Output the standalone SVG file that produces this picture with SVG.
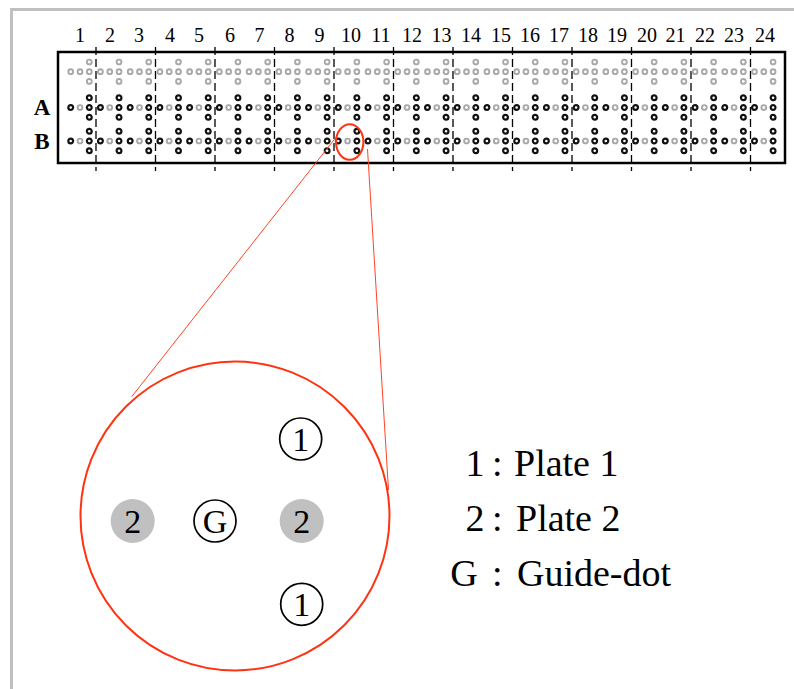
<svg xmlns="http://www.w3.org/2000/svg" xmlns:xlink="http://www.w3.org/1999/xlink" width="794" height="689" viewBox="0 0 794 689">
  <style>
    .frame { fill: none; stroke: #c0c0c0; stroke-width: 3; }
    .plate { fill: #ffffff; stroke: #000000; stroke-width: 2.5; }
    .sep { stroke: #000000; stroke-width: 1.3; stroke-dasharray: 8 4; }
    .dk { fill: #ffffff; stroke: #111111; stroke-width: 2.2; }
    .lt { fill: #ffffff; stroke: #a8a8a8; stroke-width: 1.9; }
    .num { font-family: "Liberation Serif", "Times New Roman", serif; font-size: 20px; text-anchor: middle; fill: #000; }
    .row { font-family: "Liberation Serif", "Times New Roman", serif; font-size: 23px; font-weight: bold; text-anchor: middle; fill: #000; }
    .red { fill: none; stroke: #ff3311; stroke-width: 2; }
    .link { fill: none; stroke: #ff4422; stroke-width: 1; }
    .ring { fill: #ffffff; stroke: #000000; stroke-width: 1.7; }
    .fillg { fill: #c0c0c0; }
    .big { font-family: "Liberation Serif", "Times New Roman", serif; font-size: 34px; text-anchor: middle; fill: #000; }
    .leg { font-family: "Liberation Serif", "Times New Roman", serif; font-size: 38px; fill: #000; }
  </style>
  <defs>
    <!-- one dot cross: vertical triple on the centre, two dots to its left -->
    <g id="crossLight">
      <circle class="lt" cx="0" cy="-9.7" r="2.4"/>
      <circle class="lt" cx="0" cy="0" r="2.4"/>
      <circle class="lt" cx="0" cy="9.7" r="2.4"/>
      <circle class="lt" cx="-9.3" cy="0" r="2.4"/>
      <circle class="lt" cx="-18.6" cy="0" r="2.4"/>
    </g>
    <g id="crossDark">
      <circle class="dk" cx="0" cy="-9.7" r="2.4"/>
      <circle class="dk" cx="0" cy="0" r="2.4"/>
      <circle class="dk" cx="0" cy="9.7" r="2.4"/>
      <circle class="lt" cx="-9.3" cy="0" r="2.4"/>
      <circle class="dk" cx="-18.6" cy="0" r="2.4"/>
    </g>
    <!-- one plate column: guide row plus rows A and B -->
    <g id="column">
      <use xlink:href="#crossLight" y="71.7"/>
      <use xlink:href="#crossDark" y="107.5"/>
      <use xlink:href="#crossDark" y="141"/>
    </g>
  </defs>

  <rect width="794" height="689" fill="#ffffff"/>
  <path class="frame" d="M11.5 689 V9.5 H794"/>

  <!-- plate strip -->
  <g id="plate">
    <rect class="plate" x="58" y="52" width="727" height="111"/>
    <g id="separators">
      <line class="sep" x1="96" y1="47" x2="96" y2="171"/>
      <line class="sep" x1="155.5" y1="47" x2="155.5" y2="171"/>
      <line class="sep" x1="215" y1="47" x2="215" y2="171"/>
      <line class="sep" x1="274.5" y1="47" x2="274.5" y2="171"/>
      <line class="sep" x1="334" y1="47" x2="334" y2="171"/>
      <line class="sep" x1="393.5" y1="47" x2="393.5" y2="171"/>
      <line class="sep" x1="453" y1="47" x2="453" y2="171"/>
      <line class="sep" x1="512.5" y1="47" x2="512.5" y2="171"/>
      <line class="sep" x1="572" y1="47" x2="572" y2="171"/>
      <line class="sep" x1="631.5" y1="47" x2="631.5" y2="171"/>
      <line class="sep" x1="691" y1="47" x2="691" y2="171"/>
      <line class="sep" x1="750.5" y1="47" x2="750.5" y2="171"/>
    </g>
    <g id="dots">
      <use xlink:href="#column" x="89.3"/>
      <use xlink:href="#column" x="119.03"/>
      <use xlink:href="#column" x="148.76"/>
      <use xlink:href="#column" x="178.49"/>
      <use xlink:href="#column" x="208.22"/>
      <use xlink:href="#column" x="237.95"/>
      <use xlink:href="#column" x="267.68"/>
      <use xlink:href="#column" x="297.41"/>
      <use xlink:href="#column" x="327.14"/>
      <use xlink:href="#column" x="356.87"/>
      <use xlink:href="#column" x="386.6"/>
      <use xlink:href="#column" x="416.33"/>
      <use xlink:href="#column" x="446.06"/>
      <use xlink:href="#column" x="475.79"/>
      <use xlink:href="#column" x="505.52"/>
      <use xlink:href="#column" x="535.25"/>
      <use xlink:href="#column" x="564.98"/>
      <use xlink:href="#column" x="594.71"/>
      <use xlink:href="#column" x="624.44"/>
      <use xlink:href="#column" x="654.17"/>
      <use xlink:href="#column" x="683.9"/>
      <use xlink:href="#column" x="713.63"/>
      <use xlink:href="#column" x="743.36"/>
      <use xlink:href="#column" x="773.09"/>
    </g>
    <g id="column-numbers">
      <text class="num" x="80" y="42">1</text>
      <text class="num" x="110" y="42">2</text>
      <text class="num" x="139" y="42">3</text>
      <text class="num" x="170" y="42">4</text>
      <text class="num" x="199" y="42">5</text>
      <text class="num" x="230" y="42">6</text>
      <text class="num" x="259.5" y="42">7</text>
      <text class="num" x="289.5" y="42">8</text>
      <text class="num" x="319.5" y="42">9</text>
      <text class="num" x="351" y="42">10</text>
      <text class="num" x="381" y="42">11</text>
      <text class="num" x="412" y="42">12</text>
      <text class="num" x="441.5" y="42">13</text>
      <text class="num" x="471" y="42">14</text>
      <text class="num" x="501" y="42">15</text>
      <text class="num" x="530" y="42">16</text>
      <text class="num" x="559" y="42">17</text>
      <text class="num" x="588" y="42">18</text>
      <text class="num" x="617" y="42">19</text>
      <text class="num" x="647" y="42">20</text>
      <text class="num" x="675.5" y="42">21</text>
      <text class="num" x="705" y="42">22</text>
      <text class="num" x="734" y="42">23</text>
      <text class="num" x="765" y="42">24</text>
    </g>
    <g id="row-labels">
      <text class="row" x="42" y="115">A</text>
      <text class="row" x="42" y="149">B</text>
    </g>
  </g>

  <!-- highlighted site: column 10, row B -->
  <g id="site">
    <ellipse class="red" cx="349.7" cy="142" rx="13.7" ry="17.8"/>
  </g>

  <g id="connectors">
    <line class="link" x1="337" y1="136" x2="131.7" y2="396.7"/>
    <line class="link" x1="367.5" y1="149" x2="388.5" y2="490"/>
  </g>

  <!-- magnified site -->
  <g id="magnifier">
    <circle class="red" cx="235" cy="516" r="154.5"/>
  </g>
  <g id="dot-1-top">
    <circle class="ring" cx="300.7" cy="439" r="21"/>
    <text class="big" x="300.7" y="450.5">1</text>
  </g>
  <g id="dot-2-left">
    <circle class="fillg" cx="132.7" cy="521" r="22"/>
    <text class="big" x="132.7" y="532.5">2</text>
  </g>
  <g id="dot-g">
    <circle class="ring" cx="215" cy="521" r="21"/>
    <text class="big" x="215" y="532.5">G</text>
  </g>
  <g id="dot-2-right">
    <circle class="fillg" cx="301.7" cy="521" r="22"/>
    <text class="big" x="301.7" y="532.5">2</text>
  </g>
  <g id="dot-1-bottom">
    <circle class="ring" cx="301.7" cy="604.3" r="21"/>
    <text class="big" x="301.7" y="615.8">1</text>
  </g>

  <!-- key -->
  <g id="legend">
    <text class="leg" y="476"><tspan x="475" text-anchor="middle">1</tspan><tspan x="492">:</tspan><tspan x="514">Plate 1</tspan></text>
    <text class="leg" y="531"><tspan x="475" text-anchor="middle">2</tspan><tspan x="492">:</tspan><tspan x="516">Plate 2</tspan></text>
    <text class="leg" y="586"><tspan x="464" text-anchor="middle">G</tspan><tspan x="492">:</tspan><tspan x="517">Guide-dot</tspan></text>
  </g>
</svg>
